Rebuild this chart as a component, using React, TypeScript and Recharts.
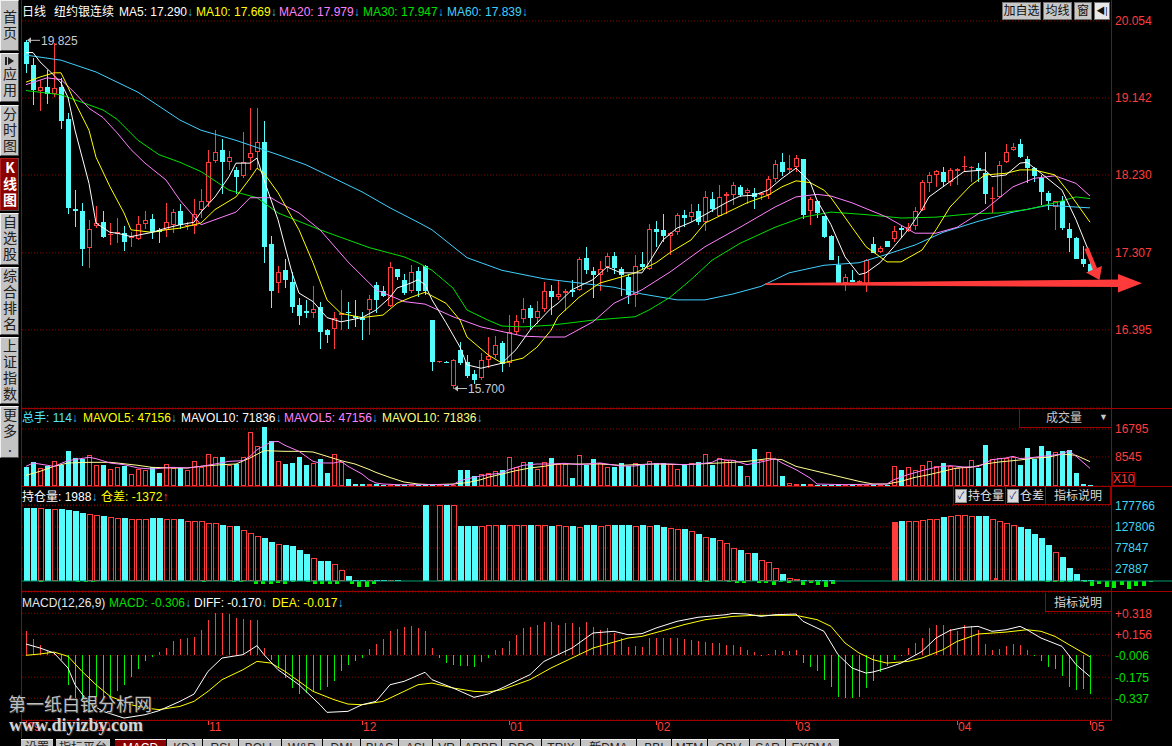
import React from "react";
import {
  ComposedChart,
  Bar,
  Line,
  XAxis,
  YAxis,
  CartesianGrid,
  ReferenceDot,
  ReferenceLine,
} from "recharts";

const RED = "#ff3c3c";
const CYAN = "#54fcfc";
const GREEN = "#00f000";
const GRID = "#8c0000";
const FRAME = "#a00000";
const ARROW = "#30b8e8";
const FONT = "Arial, 'Liberation Sans', 'Noto Sans CJK SC', sans-serif";

// daily candles
const opens = [
  19.81, 19.53, 19.22, 19.27, 19.19, 19.27, 18.89, 17.83, 17.8, 17.37,
  17.62, 17.67, 17.52, 17.53, 17.54, 17.48, 17.47, 17.65, 17.71, 17.58,
  17.58, 17.64, 17.8, 17.62, 17.62, 17.82, 17.91, 18.4, 18.52, 18.38,
  18.29, 18.22, 18.43, 18.5, 18.62, 17.41, 16.95, 17.1, 16.96, 16.69,
  16.62, 16.6, 16.66, 16.39, 16.4, 16.57, 16.61, 16.56, 16.54, 16.63,
  16.93, 16.86, 16.68, 17.11, 16.99, 16.85, 17.09, 17.15, 16.51, 16.01,
  16.01, 15.73, 16.16, 16.01, 15.87, 15.83, 16.04, 16.1, 16.24, 16.0,
  16.37, 16.52, 16.65, 16.54, 16.64, 16.86, 16.79, 16.83, 16.87, 16.87,
  17.25, 17.09, 17.05, 17.14, 17.27, 17.12, 17.02, 16.81, 17.18, 17.12,
  17.59, 17.58, 17.51, 17.55, 17.76, 17.73, 17.8, 17.67, 17.95, 17.74,
  17.98, 17.99, 18.09, 18.02, 18.02, 17.99, 17.99, 18.18, 18.38, 18.29,
  18.32, 18.42, 17.8, 17.92, 17.74, 17.51, 17.16, 16.95, 16.99, 16.95,
  16.93, 17.41, 17.32, 17.45, 17.47, 17.6, 17.57, 17.62, 17.81, 18.14,
  18.23, 18.27, 18.15, 18.28, 18.33, 18.32, 18.31, 18.25, 17.95, 17.97,
  18.38, 18.53, 18.6, 18.42, 18.31, 18.19, 18.02, 17.85, 17.92, 17.59,
  17.48, 17.24, 17.18,
];
const highs = [
  19.825, 19.61, 19.36, 19.47, 19.79, 19.38, 18.96, 18.05, 17.9, 17.7,
  17.86, 17.8, 17.66, 17.72, 17.62, 17.56, 17.74, 17.8, 17.77, 17.6,
  17.9, 17.83, 17.89, 17.67, 17.95, 18.06, 18.53, 18.76, 18.66, 18.51,
  18.33, 18.74, 19.02, 19.02, 18.87, 17.51, 17.15, 17.24, 17.08, 16.77,
  16.75, 16.91, 16.73, 16.41, 16.61, 16.87, 16.73, 16.75, 16.61, 16.81,
  16.96, 16.91, 17.2, 17.12, 17.06, 17.16, 17.14, 17.16, 16.51, 16.02,
  16.02, 16.05, 16.25, 16.1, 15.92, 16.12, 16.31, 16.32, 16.26, 16.57,
  16.57, 16.77, 16.69, 16.74, 16.96, 16.93, 16.99, 16.88, 16.99, 17.26,
  17.38, 17.14, 17.21, 17.3, 17.32, 17.14, 17.06, 17.28, 17.32, 17.65,
  17.69, 17.77, 17.56, 17.78, 17.81, 17.88, 17.89, 18.04, 18.03, 18.11,
  18.03, 18.15, 18.11, 18.07, 18.08, 18.03, 18.22, 18.41, 18.49, 18.47,
  18.47, 18.42, 17.97, 17.93, 17.74, 17.52, 17.27, 17.06, 17.1, 16.99,
  17.23, 17.49, 17.39, 17.45, 17.63, 17.63, 17.66, 17.85, 18.17, 18.27,
  18.29, 18.33, 18.31, 18.31, 18.45, 18.34, 18.37, 18.5, 18.09, 18.39,
  18.6, 18.61, 18.66, 18.45, 18.33, 18.23, 18.04, 17.92, 17.98, 17.66,
  17.49, 17.39, 17.2,
];
const lows = [
  19.44, 19.06, 18.99, 19.07, 19.15, 18.77, 17.77, 17.61, 17.15, 17.13,
  17.6, 17.48, 17.4, 17.42, 17.33, 17.38, 17.46, 17.59, 17.47, 17.42,
  17.49, 17.54, 17.59, 17.58, 17.53, 17.72, 17.85, 18.37, 18.01, 18.29,
  18.01, 18.19, 18.29, 18.31, 17.19, 16.65, 16.83, 16.89, 16.59, 16.45,
  16.53, 16.54, 16.17, 16.24, 16.17, 16.39, 16.41, 16.43, 16.27, 16.33,
  16.59, 16.79, 16.67, 16.99, 16.81, 16.83, 16.79, 16.81, 15.91, 16.0,
  16.0, 15.7, 15.98, 15.82, 15.75, 15.8, 15.94, 16.06, 15.9, 15.96,
  16.33, 16.48, 16.39, 16.47, 16.61, 16.57, 16.75, 16.62, 16.79, 16.85,
  17.06, 16.77, 16.86, 17.08, 17.06, 16.8, 16.7, 16.66, 17.1, 17.1,
  17.38, 17.44, 17.28, 17.52, 17.61, 17.67, 17.64, 17.57, 17.79, 17.74,
  17.77, 17.87, 17.97, 17.89, 17.83, 17.93, 17.94, 18.15, 18.22, 18.25,
  18.27, 17.71, 17.64, 17.72, 17.48, 17.22, 16.95, 16.86, 16.96, 16.94,
  16.84, 17.3, 17.3, 17.38, 17.44, 17.48, 17.55, 17.58, 17.8, 18.03,
  18.09, 18.09, 18.1, 18.11, 18.27, 18.15, 18.15, 17.89, 17.78, 17.96,
  18.37, 18.51, 18.43, 18.13, 18.15, 17.87, 17.81, 17.58, 17.58, 17.32,
  17.23, 17.14, 17.06,
];
const closes = [
  19.55, 19.24, 19.27, 19.19, 19.26, 18.87, 17.84, 17.8, 17.35, 17.59,
  17.66, 17.5, 17.53, 17.55, 17.44, 17.51, 17.65, 17.7, 17.56, 17.56,
  17.67, 17.79, 17.64, 17.64, 17.77, 17.92, 18.38, 18.5, 18.38, 18.44,
  18.2, 18.38, 18.49, 18.62, 17.38, 16.85, 17.08, 16.99, 16.67, 16.56,
  16.59, 16.64, 16.37, 16.33, 16.53, 16.59, 16.6, 16.53, 16.51, 16.76,
  16.75, 16.8, 17.14, 17.02, 16.83, 17.08, 16.85, 16.85, 16.01, 16.02,
  16.0, 16.04, 16.0, 15.85, 15.8, 16.04, 16.08, 16.21, 15.99, 16.37,
  16.5, 16.64, 16.54, 16.62, 16.85, 16.78, 16.82, 16.86, 16.84, 17.24,
  17.1, 17.04, 17.12, 17.27, 17.13, 17.04, 16.81, 17.15, 17.14, 17.59,
  17.56, 17.51, 17.54, 17.76, 17.72, 17.79, 17.67, 17.97, 17.83, 17.97,
  18.0, 18.11, 17.99, 18.05, 17.97, 18.02, 18.18, 18.36, 18.27, 18.31,
  18.43, 17.76, 17.95, 17.78, 17.49, 17.22, 16.95, 17.02, 16.96, 16.97,
  17.22, 17.3, 17.37, 17.38, 17.57, 17.58, 17.61, 17.8, 18.15, 18.23,
  18.28, 18.15, 18.29, 18.3, 18.34, 18.33, 18.29, 18.01, 17.96, 18.35,
  18.5, 18.56, 18.44, 18.31, 18.22, 18.03, 17.92, 17.92, 17.6, 17.48,
  17.24, 17.17, 17.08,
];

// volume (x10 lots)
const volumes = [
  5696, 7169, 5303, 5794, 7463, 6088, 10409, 8249, 7856, 9231,
  6285, 6285, 5106, 5499, 5794, 3535, 5008, 4812, 5499, 3928,
  6481, 5303, 5303, 4812, 7463, 5499, 9427, 8445, 8642, 6088,
  6481, 8642, 15908, 11784, 17283, 13355, 7463, 6579, 6874, 8445,
  6088, 6776, 8052, 3732, 9427, 6972, 2160, 687, 687, 600,
  600, 400, 300, 300, 300, 300, 400, 400, 400, 300,
  400, 400, 4812, 4812, 3044, 3535, 3830, 4517, 4812, 8543,
  5597, 7070, 7169, 5106, 7070, 8347, 6481, 6481, 2455, 9133,
  6285, 8052, 6776, 5597, 5696, 6776, 5794, 6776, 6285, 7463,
  6776, 6776, 6481, 5106, 6481, 6776, 7070, 9427, 6285, 8249,
  7758, 7758, 5990, 3044, 10998, 7758, 10016, 8052, 3044, 884,
  589, 589, 589, 393, 393, 393, 393, 393, 393, 393,
  393, 393, 393, 393, 5892, 4812, 5597, 4714, 6187, 7463,
  5794, 6776, 5794, 5205, 5499, 7758, 5401, 12177, 8052, 8249,
  8249, 8642, 6285, 11195, 7856, 11882, 10213, 9918, 10409, 10704,
  3928, 687, 400,
];

// open interest (null = no bar)
const openInterest = [
  172800, 172800, 172000, 169600, 169600, 169600, 166500, 164200, 160200, 157100,
  154800, 153200, 150900, 147700, 147700, 146200, 145400, 145400, 147700, 147700,
  145400, 145400, 145400, 142300, 140700, 140700, 137600, 136000, 132100, 129800,
  129800, 119600, 112600, 106300, 100800, 91500, 87600, 85200, 82100, 73500,
  64900, 53900, 47700, 47700, 39900, 25800, 12500, 3100, 3100, 3100,
  2300, 2300, 2300, 2300, null, null, null, 179000, null, 179000,
  179000, 179000, 129800, 129800, 129800, 129000, 131300, 131300, 132100, 132100,
  132100, 132100, 132100, 132100, 132100, 129800, 132100, 129800, 129800, 126600,
  132100, 132100, 129800, 132100, 132100, 132100, 132100, 129800, 132100, 129800,
  132100, 127400, 124300, 121900, 122700, 117300, 111000, 103200, 101600, 96100,
  89100, 79000, 73500, 66400, 66400, 49200, 44600, 30500, 17200, 7000,
  4700, 2300, 2300, 2300, 2300, 2300, null, null, null, null,
  null, null, null, null, 139100, 141500, 141500, 141500, 143800, 146200,
  146200, 151700, 153200, 155600, 155600, 153200, 153200, 153200, 145400, 141500,
  136000, 132100, 127400, 121900, 111000, 101600, 86000, 68800, 57100, 31300,
  17200, 3100, 2300,
];
const oiSolidIdx = [124];

// open interest change, [index, value]
const oiChgPts: [number, number][] = [
  [2, -2400], [7, -2400], [8, -3100], [9, -2400], [18, 2000], [24, -2400], [28, -2400],
  [29, -2400], [31, -6300], [32, -6300], [33, -7900], [34, -3900], [35, -7100], [36, -3100],
  [38, -2400], [39, -7100], [40, -7100], [41, -7100], [42, -6300], [44, -7900], [45, -13400],
  [46, -14200], [47, -6300], [80, 1500], [91, -2400], [92, -2400], [95, -3100], [96, -3900],
  [97, -3900], [99, -4700], [100, -5500], [101, -9400], [102, -2400], [103, -3900], [105, -9400],
  [106, -3900], [107, -9400], [108, -14200], [109, -6300], [125, 3000], [131, 6000], [138, -3100],
  [139, -3100], [140, -3100], [141, -2400], [143, -2400], [144, -11000], [145, -6300],
  [146, -14200], [147, -15700], [148, -9400], [149, -19700], [150, -11800], [151, -11000],
  [152, -1372],
];

// MACD histogram
const macdBars = [
  0.184, 0.122, 0.071, 0.024, 0.004, -0.04, -0.233, -0.335, -0.356, -0.348,
  -0.348, -0.335, -0.32, -0.284, -0.233, -0.176, -0.109, -0.048, -0.019, 0.017,
  0.05, 0.107, 0.122, 0.127, 0.132, 0.191, 0.269, 0.32, 0.32, 0.312,
  0.281, 0.273, 0.269, 0.269, 0.05, -0.04, -0.104, -0.181, -0.258, -0.305,
  -0.297, -0.284, -0.271, -0.253, -0.202, -0.13, -0.084, -0.048, -0.027, 0.042,
  0.081, 0.122, 0.184, 0.199, 0.209, 0.217, 0.204, 0.179, 0.05, -0.027,
  -0.066, -0.084, -0.091, -0.091, -0.099, -0.058, -0.027, 0.032, 0.05, 0.101,
  0.153, 0.204, 0.209, 0.23, 0.251, 0.251, 0.23, 0.243, 0.243, 0.209,
  0.25, 0.209, 0.191, 0.204, 0.166, 0.127, 0.055, 0.063, 0.055, 0.127,
  0.127, 0.127, 0.127, 0.127, 0.12, 0.114, 0.101, 0.096, 0.089, 0.089,
  0.076, 0.071, 0.055, 0.037, 0.019, -0.004, 0.004, 0.037, 0.03, 0.03,
  0.037, -0.066, -0.099, -0.13, -0.194, -0.253, -0.33, -0.335, -0.335, -0.328,
  -0.258, -0.202, -0.135, -0.091, -0.04, -0.005, 0.05, 0.089, 0.127, 0.204,
  0.23, 0.225, 0.199, 0.179, 0.23, 0.217, 0.191, 0.081, 0.037, 0.045,
  0.068, 0.081, 0.076, 0.037, -0.014, -0.053, -0.099, -0.109, -0.168, -0.253,
  -0.271, -0.263, -0.306,
];

// moving averages read at points along each line, [index, value]
const ma5Pts: [number, number][] = [
  [0, 19.68], [1, 19.68], [2, 19.57], [4, 19.41], [5, 19.32], [6, 19.15], [7, 18.76], [9, 18.13],
  [10, 17.66], [12, 17.55], [13, 17.54], [15, 17.5], [18, 17.55], [20, 17.6], [22, 17.64],
  [24, 17.67], [25, 17.79], [27, 17.97], [29, 18.21], [30, 18.37], [32, 18.37], [33, 18.43],
  [34, 18.17], [36, 17.7], [38, 17.07], [39, 16.83], [41, 16.73], [43, 16.54], [45, 16.49],
  [48, 16.54], [50, 16.63], [52, 16.78], [53, 16.89], [55, 16.95], [56, 16.99], [57, 16.93],
  [58, 16.75], [60, 16.48], [62, 16.19], [63, 15.98], [65, 15.94], [68, 16.0], [70, 16.16],
  [72, 16.39], [75, 16.65], [76, 16.71], [78, 16.87], [81, 16.99], [83, 17.14], [85, 17.07],
  [88, 17.07], [89, 17.19], [91, 17.46], [93, 17.6], [95, 17.67], [97, 17.76], [100, 17.9],
  [102, 17.98], [104, 17.99], [106, 18.05], [108, 18.19], [110, 18.31], [112, 18.15],
  [113, 17.93], [115, 17.64], [117, 17.26], [119, 17.05], [120, 17.07], [122, 17.19],
  [124, 17.38], [126, 17.58], [128, 17.82], [129, 17.97], [132, 18.15], [134, 18.27],
  [137, 18.29], [138, 18.21], [140, 18.23], [142, 18.37], [143, 18.38], [145, 18.25],
  [148, 18.05], [150, 17.7], [152, 17.29],
];
const ma10Pts: [number, number][] = [
  [0, 19.33], [2, 19.39], [4, 19.44], [5, 19.44], [6, 19.27], [7, 19.09], [9, 18.76], [10, 18.44],
  [12, 18.09], [14, 17.78], [15, 17.58], [18, 17.55], [20, 17.58], [22, 17.6], [25, 17.66],
  [27, 17.82], [30, 17.97], [32, 18.19], [33, 18.31], [34, 18.25], [36, 18.02], [39, 17.58],
  [41, 17.19], [43, 16.75], [45, 16.59], [48, 16.54], [51, 16.57], [53, 16.71], [55, 16.78],
  [57, 16.84], [60, 16.71], [62, 16.51], [63, 16.31], [66, 16.1], [68, 16.0], [71, 16.06],
  [73, 16.19], [75, 16.39], [76, 16.55], [79, 16.78], [82, 16.95], [85, 17.02], [87, 17.07],
  [90, 17.19], [92, 17.31], [95, 17.46], [97, 17.66], [100, 17.78], [103, 17.9], [106, 17.99],
  [108, 18.09], [110, 18.16], [112, 18.14], [114, 18.05], [115, 17.96], [118, 17.61],
  [120, 17.38], [123, 17.2], [125, 17.2], [128, 17.34], [130, 17.58], [132, 17.85],
  [135, 18.11], [137, 18.23], [140, 18.25], [142, 18.29], [144, 18.29], [147, 18.23],
  [149, 18.02], [152, 17.67],
];
const ma20Pts: [number, number][] = [
  [0, 19.3], [3, 19.38], [5, 19.36], [7, 19.2], [9, 19.02], [11, 18.91], [13, 18.73], [15, 18.53],
  [17, 18.37], [20, 18.17], [22, 17.93], [25, 17.64], [27, 17.7], [30, 17.79], [32, 17.96],
  [35, 17.96], [36, 17.91], [39, 17.78], [42, 17.58], [46, 17.2], [50, 16.87], [54, 16.73],
  [57, 16.7], [61, 16.55], [65, 16.43], [71, 16.32], [74, 16.31], [77, 16.31], [81, 16.49],
  [84, 16.71], [88, 16.87], [92, 17.08], [97, 17.38], [102, 17.61], [107, 17.85], [110, 17.97],
  [113, 18.0], [115, 17.98], [118, 17.9], [123, 17.73], [127, 17.54], [130, 17.54],
  [133, 17.61], [137, 17.82], [141, 18.09], [144, 18.19], [147, 18.22], [150, 18.13],
  [152, 17.98],
];
const ma30Pts: [number, number][] = [
  [0, 19.23], [5, 19.18], [7, 19.12], [11, 19.0], [13, 18.89], [16, 18.64], [19, 18.47],
  [22, 18.38], [25, 18.27], [29, 18.05], [33, 17.96], [36, 17.78], [42, 17.58], [49, 17.37],
  [54, 17.26], [56, 17.19], [58, 17.1], [61, 16.89], [63, 16.63], [66, 16.51], [68, 16.44],
  [71, 16.43], [75, 16.45], [81, 16.51], [87, 16.55], [89, 16.63], [92, 16.78], [95, 16.99],
  [98, 17.22], [102, 17.42], [107, 17.61], [111, 17.73], [115, 17.79], [120, 17.76],
  [125, 17.72], [130, 17.73], [135, 17.77], [139, 17.78], [143, 17.82], [147, 17.9],
  [150, 17.97], [152, 17.95],
];
const ma60Pts: [number, number][] = [
  [0, 19.65], [5, 19.59], [10, 19.45], [16, 19.21], [22, 18.88], [25, 18.76], [30, 18.64],
  [36, 18.47], [40, 18.35], [44, 18.19], [48, 18.03], [52, 17.84], [56, 17.67], [58, 17.58],
  [63, 17.25], [68, 17.1], [74, 17.0], [79, 16.95], [84, 16.9], [88, 16.82], [93, 16.75],
  [97, 16.75], [101, 16.82], [105, 16.91], [109, 17.07], [114, 17.16], [119, 17.19],
  [123, 17.29], [127, 17.4], [131, 17.55], [136, 17.68], [141, 17.79], [146, 17.87],
  [152, 17.84],
];
const mavol5Pts: [number, number][] = [
  [0, 5794], [1, 6776], [4, 5794], [6, 7463], [9, 8445], [10, 8052], [12, 6776], [14, 6285],
  [16, 5303], [18, 5008], [21, 5499], [23, 5303], [25, 5794], [27, 6481], [29, 7267], [31, 7463],
  [32, 8740], [33, 10704], [35, 12962], [36, 13159], [37, 11980], [39, 10213], [41, 7267],
  [42, 6776], [44, 6776], [45, 7267], [46, 5794], [48, 3535], [49, 1866], [50, 884], [51, 589],
  [53, 393], [61, 393], [62, 1571], [64, 2553], [66, 3339], [68, 3830], [69, 4812], [71, 6088],
  [73, 6481], [75, 6481], [77, 6678], [79, 6285], [82, 6776], [85, 5892], [87, 5892], [88, 6285],
  [90, 6579], [92, 6481], [94, 6285], [96, 6481], [98, 6972], [99, 7954], [100, 7659],
  [101, 7561], [103, 6285], [105, 7070], [107, 8052], [108, 6776], [110, 4812], [112, 2357],
  [113, 589], [117, 393], [123, 589], [124, 1866], [126, 3339], [128, 4517], [130, 5499],
  [132, 5990], [134, 5597], [136, 5696], [138, 7758], [140, 8249], [141, 8740], [142, 8052],
  [144, 8445], [146, 8936], [148, 9427], [149, 10409], [150, 8800], [151, 7000], [152, 5200],
];
const mavol10Pts: [number, number][] = [
  [0, 3142], [2, 4321], [4, 5794], [6, 6776], [9, 6972], [12, 6972], [13, 6776], [16, 6088],
  [18, 5499], [21, 5303], [23, 5303], [25, 5794], [28, 6285], [30, 6481], [32, 8249], [34, 10409],
  [37, 10213], [39, 10213], [41, 10016], [43, 8740], [45, 7463], [47, 6481], [49, 4900],
  [50, 4000], [52, 2500], [54, 1178], [56, 589], [58, 393], [61, 589], [63, 982], [65, 1866],
  [66, 2553], [68, 3535], [70, 4517], [72, 5303], [74, 5794], [76, 6481], [79, 6481], [82, 6481],
  [85, 6088], [87, 6285], [90, 6481], [94, 6285], [97, 6579], [99, 6776], [101, 6972],
  [103, 7267], [106, 8052], [108, 7758], [110, 5794], [113, 4321], [116, 2848], [119, 1375],
  [121, 589], [123, 589], [125, 1375], [127, 2553], [129, 3339], [131, 4321], [133, 5303],
  [135, 5499], [137, 6481], [139, 7070], [141, 7463], [142, 7659], [144, 8249], [146, 8445],
  [148, 9427], [150, 9034], [152, 7184],
];
const diffPts: [number, number][] = [
  [0, 0.081], [2, 0.05], [4, 0.012], [6, -0.104], [7, -0.233], [9, -0.374], [11, -0.438],
  [14, -0.49], [17, -0.464], [19, -0.433], [22, -0.361], [24, -0.305], [26, -0.13], [28, -0.027],
  [31, -0.001], [33, 0.068], [34, -0.001], [36, -0.117], [39, -0.233], [42, -0.387], [43, -0.446],
  [46, -0.438], [48, -0.387], [50, -0.361], [52, -0.233], [54, -0.207], [57, -0.137],
  [58, -0.194], [61, -0.258], [64, -0.33], [66, -0.305], [68, -0.258], [72, -0.155],
  [74, -0.053], [78, 0.05], [81, 0.166], [84, 0.179], [86, 0.153], [88, 0.161], [90, 0.204],
  [93, 0.256], [96, 0.287], [100, 0.307], [101, 0.317], [103, 0.312], [105, 0.294],
  [107, 0.307], [110, 0.312], [111, 0.256], [114, 0.179], [116, -0.001], [118, -0.104],
  [120, -0.143], [121, -0.135], [123, -0.104], [125, -0.066], [128, 0.024], [130, 0.127],
  [132, 0.186], [134, 0.209], [136, 0.217], [138, 0.179], [140, 0.191], [142, 0.217],
  [143, 0.191], [145, 0.127], [148, 0.063], [150, -0.078], [152, -0.17],
];
const deaPts: [number, number][] = [
  [0, -0.006], [2, 0.004], [4, 0.019], [6, -0.014], [8, -0.13], [10, -0.233], [12, -0.322],
  [15, -0.387], [17, -0.412], [19, -0.425], [22, -0.4], [24, -0.361], [26, -0.284], [28, -0.194],
  [31, -0.117], [33, -0.053], [35, -0.066], [37, -0.13], [39, -0.207], [41, -0.284], [44, -0.348],
  [46, -0.382], [48, -0.387], [51, -0.361], [53, -0.31], [56, -0.233], [58, -0.22], [61, -0.258],
  [64, -0.284], [66, -0.289], [68, -0.271], [72, -0.194], [75, -0.104], [78, -0.027], [81, 0.05],
  [84, 0.096], [86, 0.127], [88, 0.14], [91, 0.184], [94, 0.23], [97, 0.268], [101, 0.294],
  [104, 0.302], [107, 0.302], [110, 0.302], [113, 0.269], [115, 0.217], [117, 0.089],
  [119, 0.012], [121, -0.04], [123, -0.066], [126, -0.053], [128, -0.027], [131, 0.037],
  [133, 0.101], [136, 0.158], [140, 0.173], [143, 0.191], [145, 0.179], [147, 0.14],
  [149, 0.076], [152, -0.017],
];

const priceTicks = [20.054, 19.142, 18.23, 17.307, 16.395];
const volTicks = [16795, 8545];
const oiTicks = [177766, 127806, 77847, 27887];
const macdTicks = [0.318, 0.156, -0.006, -0.175, -0.337];
const monthIdx = [0, 10, 26, 48, 69, 90, 110, 133, 152];
const monthLabels = ["09", "10", "11", "12", "01", "02", "03", "04", "05"];

const N = closes.length;
const spread = (pts: [number, number][]) => {
  const a: (number | null)[] = new Array(N).fill(null);
  pts.forEach(([i, v]) => (a[i] = v));
  return a;
};
const ma5 = spread(ma5Pts);
const ma10 = spread(ma10Pts);
const ma20 = spread(ma20Pts);
const ma30 = spread(ma30Pts);
const ma60 = spread(ma60Pts);
const mv5 = spread(mavol5Pts);
const mv10 = spread(mavol10Pts);
const oiChg = spread(oiChgPts);
const diff = spread(diffPts);
const dea = spread(deaPts);

const rows = closes.map((c, i) => ({
  i,
  o: opens[i],
  h: highs[i],
  l: lows[i],
  c,
  range: [lows[i], highs[i]],
  vol: volumes[i],
  oi: openInterest[i],
  chg: oiChg[i],
  macd: macdBars[i],
  ma5: ma5[i],
  ma10: ma10[i],
  ma20: ma20[i],
  ma30: ma30[i],
  ma60: ma60[i],
  mv5: mv5[i],
  mv10: mv10[i],
  diff: diff[i],
  dea: dea[i],
}));

const PAD = { left: 0.5, right: 17.5 };
const CW = 1150;
const M = { top: 10, right: 0, bottom: 0, left: 0 };

const span = (y: number, height: number) => {
  const top = Math.round(Math.min(y, y + height));
  const bot = Math.round(Math.max(y, y + height));
  return [top, bot];
};

function Candle(props: any) {
  const { x, y, width, height, payload } = props;
  if (!payload || x == null || y == null) return null;
  const { o, h, l, c } = payload;
  const top = Math.min(y, y + height);
  const k = h > l ? Math.abs(height) / (h - l) : 0;
  const py = (v: number) => Math.round(top + (h - v) * k);
  const cx = Math.round(x + width / 2);
  const yH = py(h);
  const yL = py(l);
  const bT = py(Math.max(o, c));
  const bh = Math.max(1, py(Math.min(o, c)) - bT);
  if (c >= o) {
    return (
      <g shapeRendering="crispEdges">
        <rect x={cx} y={yH} width={1} height={Math.max(0, bT - yH)} fill={RED} />
        <rect x={cx} y={bT + bh} width={1} height={Math.max(0, yL - bT - bh)} fill={RED} />
        {bh > 2 ? (
          <rect x={cx - 1.5} y={bT + 0.5} width={4} height={bh - 1} fill="none" stroke={RED} />
        ) : (
          <rect x={cx - 2} y={bT} width={5} height={bh} fill={RED} />
        )}
      </g>
    );
  }
  return (
    <g shapeRendering="crispEdges">
      <rect x={cx} y={yH} width={1} height={Math.max(1, yL - yH)} fill={CYAN} />
      <rect x={cx - 2} y={bT} width={5} height={bh} fill={CYAN} />
    </g>
  );
}

function VolBar(props: any) {
  const { x, y, width, height, payload } = props;
  if (!payload || y == null) return null;
  const [top, bot] = span(y, height);
  const hh = Math.max(1, bot - top);
  const cx = Math.round(x + width / 2);
  const up = payload.c >= payload.o;
  if (up && hh > 2)
    return <rect x={cx - 1.5} y={top + 0.5} width={4} height={hh - 1} fill="none" stroke={RED} shapeRendering="crispEdges" />;
  return <rect x={cx - 2} y={top} width={5} height={hh} fill={up ? RED : CYAN} shapeRendering="crispEdges" />;
}

function OiBar(props: any) {
  const { x, y, width, height, payload } = props;
  if (!payload || y == null || payload.oi == null) return null;
  const [top, bot] = span(y, height);
  const hh = Math.max(1, bot - top);
  const cx = Math.round(x + width / 2);
  const up = payload.c >= payload.o;
  if (oiSolidIdx.includes(payload.i))
    return <rect x={cx - 3} y={top} width={6} height={hh} fill={RED} shapeRendering="crispEdges" />;
  if (up && hh > 2)
    return <rect x={cx - 2.5} y={top + 0.5} width={5} height={hh - 1} fill="none" stroke={RED} shapeRendering="crispEdges" />;
  return <rect x={cx - 3} y={top} width={6} height={hh} fill={up ? RED : CYAN} shapeRendering="crispEdges" />;
}

function ChgBar(props: any) {
  const { x, y, width, height, payload } = props;
  if (!payload || y == null || payload.chg == null) return null;
  const [top, bot] = span(y, height);
  const cx = Math.round(x + width / 2);
  return (
    <rect x={cx - 2} y={top} width={4} height={Math.max(1, bot - top)} fill={payload.chg >= 0 ? RED : GREEN} shapeRendering="crispEdges" />
  );
}

function MacdBar(props: any) {
  const { x, y, width, height, payload } = props;
  if (!payload || y == null) return null;
  const [top, bot] = span(y, height);
  const cx = Math.round(x + width / 2);
  return (
    <rect x={cx} y={top} width={1} height={Math.max(1, bot - top)} fill={payload.macd >= 0 ? RED : GREEN} shapeRendering="crispEdges" />
  );
}

function ExtremeMark({ cx, cy, text }: any) {
  return (
    <g>
      <line x1={cx + 2} y1={cy} x2={cx + 14} y2={cy} stroke="#c0c0c0" />
      <path d={`M${cx + 1},${cy} l4,-3 l0,6 z`} fill="#c0c0c0" />
      <text x={cx + 15} y={cy} dy="0.36em" fill="#c4cad6" fontSize={12} fontFamily={FONT}>
        {text}
      </text>
    </g>
  );
}

function MacdTick(p: any) {
  const v = p.payload.value;
  return (
    <text x={p.x} y={p.y} dy="0.36em" textAnchor="start" fill={v > 0 ? RED : "#00e000"} fontSize={12} fontFamily={FONT}>
      {(v > 0 ? "+" : "") + v.toFixed(3)}
    </text>
  );
}

function MonthTick(p: any) {
  const k = monthIdx.indexOf(p.payload.value);
  if (k < 0) return <g />;
  return (
    <g>
      <rect x={p.x} y={p.y} width={1} height={5} fill={RED} />
      <text x={p.x + 1} y={p.y + 7} dy="0.36em" fill={RED} fontSize={12} fontFamily={FONT}>
        {monthLabels[k]}
      </text>
    </g>
  );
}

const lineProps = { dot: false, activeDot: false, connectNulls: true, isAnimationActive: false, strokeWidth: 1, type: "linear" as const };

// one label followed by its small trend arrow, kept in one text run so they never collide
function Label({ x, y, color, text, arrow, arrowColor = ARROW }: any) {
  return (
    <div style={{ position: "absolute", left: x, top: y, color, fontSize: 12, lineHeight: "14px", whiteSpace: "nowrap" }}>
      {text}
      {arrow ? <span style={{ color: arrowColor }}>{arrow}</span> : null}
    </div>
  );
}

// small "play" glyph on the 应用 button, drawn rather than typed
function PlayIcon() {
  return (
    <svg width={9} height={8} style={{ display: "block", marginBottom: 2 }}>
      <rect x={0} y={0} width={2} height={8} fill="#202020" />
      <polygon points="3,0 9,4 3,8" fill="#202020" />
    </svg>
  );
}

const sideButtons = [
  { top: 0, height: 51, text: "首页" },
  { top: 53, height: 49, text: "应用", icon: true },
  { top: 105, height: 51, text: "分时图" },
  { top: 158, height: 53, text: "K线图", active: true },
  { top: 213, height: 52, text: "自选股" },
  { top: 267, height: 68, text: "综合排名" },
  { top: 337, height: 67, text: "上证指数" },
  { top: 406, height: 52, text: "更多." },
];

const tabs: [string, number, number][] = [
  ["设置", 21, 54], ["指标平台", 56, 111], ["MACD", 115, 167], ["KDJ", 167, 203], ["RSI", 203, 239],
  ["BOLL", 239, 282], ["W&R", 282, 323], ["DMI", 323, 361], ["BIAS", 361, 399], ["ASI", 399, 433],
  ["VR", 433, 461], ["ARBR", 461, 502], ["DPO", 502, 542], ["TRIX", 542, 581], ["新DMA", 581, 637],
  ["BBI", 637, 672], ["MTM", 672, 708], ["OBV", 708, 750], ["SAR", 750, 786], ["EXPMA", 786, 840],
];

function HLine({ x1, x2, y }: any) {
  return <div style={{ position: "absolute", left: x1, top: y, width: x2 - x1, height: 1, background: FRAME }} />;
}
function VLine({ x, y1, y2 }: any) {
  return <div style={{ position: "absolute", left: x, top: y1, width: 1, height: y2 - y1, background: FRAME }} />;
}

function Check({ x }: any) {
  return (
    <div style={{ position: "absolute", left: x, top: 489, width: 10, height: 12, background: "#dcdcdc", border: "1px solid #8a8a8a", color: "#203080", fontSize: 10, lineHeight: "12px", textAlign: "center" }}>
      ✓
    </div>
  );
}

export default function App() {
  return (
    <div style={{ position: "absolute", left: 0, top: 0, width: 1172, height: 746, background: "#000", overflow: "hidden", fontFamily: FONT }}>
      {/* price panel */}
      <div style={{ position: "absolute", left: 22, top: 11 }}>
        <ComposedChart width={CW} height={397} data={rows} margin={M}>
          <CartesianGrid vertical={false} stroke={GRID} strokeDasharray="1 2" />
          <XAxis dataKey="i" type="category" hide padding={PAD} />
          <YAxis
            orientation="right"
            width={61}
            type="number"
            domain={[15.469, 20.054]}
            allowDataOverflow
            ticks={priceTicks}
            interval={0}
            axisLine={false}
            tickLine={false}
            tickSize={0}
            tickMargin={4}
            tick={{ fill: RED, fontSize: 12, fontFamily: FONT }}
            tickFormatter={(v: number) => v.toFixed(3)}
          />
          <Bar dataKey="range" barSize={5} shape={Candle} isAnimationActive={false} />
          <Line dataKey="ma60" stroke="#40d0ff" {...lineProps} />
          <Line dataKey="ma30" stroke="#00e000" {...lineProps} />
          <Line dataKey="ma20" stroke="#ff80ff" {...lineProps} />
          <Line dataKey="ma10" stroke="#ffff00" {...lineProps} />
          <Line dataKey="ma5" stroke="#ffffff" {...lineProps} />
          <ReferenceDot x={0} y={19.825} r={0} ifOverflow="visible" shape={(p: any) => <ExtremeMark cx={p.cx} cy={p.cy} text="19.825" />} />
          <ReferenceDot x={61} y={15.7} r={0} ifOverflow="visible" shape={(p: any) => <ExtremeMark cx={p.cx} cy={p.cy} text="15.700" />} />
        </ComposedChart>
      </div>

      {/* volume panel */}
      <div style={{ position: "absolute", left: 22, top: 399 }}>
        <ComposedChart width={CW} height={87} data={rows} margin={M}>
          <CartesianGrid vertical={false} stroke={GRID} strokeDasharray="1 2" />
          <XAxis dataKey="i" type="category" hide padding={PAD} />
          <YAxis
            orientation="right"
            width={61}
            type="number"
            domain={[0, 22684]}
            allowDataOverflow
            ticks={volTicks}
            interval={0}
            axisLine={false}
            tickLine={false}
            tickSize={0}
            tickMargin={4}
            tick={{ fill: RED, fontSize: 12, fontFamily: FONT }}
          />
          <Bar dataKey="vol" barSize={5} shape={VolBar} isAnimationActive={false} />
          <Line dataKey="mv10" stroke="#ffff90" {...lineProps} />
          <Line dataKey="mv5" stroke="#ff80ff" {...lineProps} />
        </ComposedChart>
      </div>

      {/* open interest panel */}
      <div style={{ position: "absolute", left: 22, top: 495 }}>
        <ComposedChart width={CW} height={96} data={rows} margin={M}>
          <CartesianGrid vertical={false} stroke={GRID} strokeDasharray="1 2" />
          <XAxis dataKey="i" type="category" hide padding={PAD} />
          <YAxis
            orientation="right"
            width={61}
            type="number"
            domain={[-23600, 179360]}
            allowDataOverflow
            ticks={oiTicks}
            interval={0}
            axisLine={false}
            tickLine={false}
            tickSize={0}
            tickMargin={4}
            tick={{ fill: "#40d4f0", fontSize: 12, fontFamily: FONT }}
          />
          <Bar dataKey="oi" barSize={6} shape={OiBar} isAnimationActive={false} />
        </ComposedChart>
      </div>
      <div style={{ position: "absolute", left: 22, top: 495 }}>
        <ComposedChart width={CW} height={96} data={rows} margin={M}>
          <XAxis dataKey="i" type="category" hide padding={PAD} />
          <YAxis orientation="right" width={61} type="number" domain={[-23600, 179360]} allowDataOverflow hide />
          <ReferenceLine y={0} stroke="#009a70" />
          <Bar dataKey="chg" barSize={4} shape={ChgBar} isAnimationActive={false} />
        </ComposedChart>
      </div>

      {/* MACD panel */}
      <div style={{ position: "absolute", left: 22, top: 582 }}>
        <ComposedChart width={CW} height={158} data={rows} margin={M}>
          <CartesianGrid vertical={false} stroke={GRID} strokeDasharray="1 2" />
          <XAxis
            dataKey="i"
            type="category"
            padding={PAD}
            height={20}
            interval={0}
            axisLine={false}
            tickLine={false}
            tickSize={0}
            tickMargin={0}
            tick={(p: any) => <MonthTick {...p} />}
          />
          <YAxis
            orientation="right"
            width={61}
            type="number"
            domain={[-0.5048, 0.482]}
            allowDataOverflow
            ticks={macdTicks}
            interval={0}
            axisLine={false}
            tickLine={false}
            tickSize={0}
            tickMargin={4}
            tick={(p: any) => <MacdTick {...p} />}
          />
          <Bar dataKey="macd" barSize={1} shape={MacdBar} isAnimationActive={false} />
          <Line dataKey="dea" stroke="#ffff00" {...lineProps} />
          <Line dataKey="diff" stroke="#ffffff" {...lineProps} />
        </ComposedChart>
      </div>

      {/* frame */}
      <VLine x={21} y1={0} y2={738} />
      <VLine x={1111} y1={0} y2={721} />
      <HLine x1={21} x2={1172} y={408} />
      <HLine x1={21} x2={1172} y={486} />
      <HLine x1={21} x2={1172} y={591} />
      <HLine x1={21} x2={1112} y={720} />

      {/* left sidebar: one vertical text run per button */}
      {sideButtons.map((b, k) => (
        <div
          key={k}
          style={{
            position: "absolute",
            left: 0,
            top: b.top,
            width: 19,
            height: b.height,
            boxSizing: "border-box",
            background: b.active ? "#8b0000" : "#c4c4c4",
            borderTop: `1px solid ${b.active ? "#b02020" : "#f0f0f0"}`,
            borderLeft: `1px solid ${b.active ? "#b02020" : "#f0f0f0"}`,
            borderBottom: "1px solid #505050",
            borderRight: "1px solid #505050",
            color: b.active ? "#fff" : "#202020",
            display: "flex",
            flexDirection: "column",
            alignItems: "center",
            justifyContent: "center",
          }}
        >
          {b.icon ? <PlayIcon /> : null}
          <div
            style={{
              writingMode: "vertical-rl",
              textOrientation: "upright",
              whiteSpace: "nowrap",
              fontSize: 14,
              lineHeight: "17px",
              letterSpacing: 2,
              fontFamily: "'Noto Sans CJK SC', sans-serif",
              fontWeight: b.active ? "bold" : "normal",
            }}
          >
            {b.text}
          </div>
        </div>
      ))}

      {/* title line */}
      <Label x={22} y={5} color="#fff" text="日线" />
      <Label x={54} y={5} color="#fff" text="纽约银连续" />
      <Label x={119} y={5} color="#fff" text="MA5: 17.290" arrow="↓" />
      <Label x={196} y={5} color="#ffff00" text="MA10: 17.669" arrow="↓" />
      <Label x={279} y={5} color="#ff80ff" text="MA20: 17.979" arrow="↓" />
      <Label x={363} y={5} color="#00e000" text="MA30: 17.947" arrow="↓" />
      <Label x={447} y={5} color="#40d0ff" text="MA60: 17.839" arrow="↓" />

      {/* top right buttons */}
      {[
        ["加自选", 1002, 39],
        ["均线", 1043, 29],
        ["窗", 1074, 18],
      ].map(([t, l, w]: any) => (
        <div key={t} style={{ position: "absolute", left: l, top: 2, width: w, height: 18, boxSizing: "border-box", background: "#c8c8c8", border: "1px solid #707070", color: "#101010", fontSize: 12, lineHeight: "16px", textAlign: "center" }}>
          {t}
        </div>
      ))}
      <div style={{ position: "absolute", left: 1094, top: 2, width: 16, height: 18, boxSizing: "border-box", background: "#e8e8e8", border: "1px solid #707070", color: "#101010", fontSize: 9, lineHeight: "16px", textAlign: "center" }}>
        ◀|
      </div>

      {/* volume header */}
      <Label x={22} y={411} color="#50e8ff" text="总手: 114" arrow="↓" />
      <Label x={83} y={411} color="#ffff00" text="MAVOL5: 47156" arrow="↓" />
      <Label x={181} y={411} color="#ffffff" text="MAVOL10: 71836" arrow="↓" />
      <Label x={284} y={411} color="#ff80ff" text="MAVOL5: 47156" arrow="↓" />
      <Label x={382} y={411} color="#ffff80" text="MAVOL10: 71836" arrow="↓" />
      <div style={{ position: "absolute", left: 1019, top: 409, width: 92, height: 19, boxSizing: "border-box", borderLeft: `1px solid ${FRAME}`, borderBottom: `1px solid ${FRAME}` }} />
      <Label x={1046} y={411} color="#c8c8c8" text="成交量" />
      <div style={{ position: "absolute", left: 1099, top: 412, color: "#c8c8c8", fontSize: 9, lineHeight: "11px" }}>▼</div>
      <div style={{ position: "absolute", left: 1112, top: 472, width: 23, height: 14, boxSizing: "border-box", border: `1px solid ${FRAME}`, color: RED, fontSize: 12, lineHeight: "12px", textAlign: "center" }}>
        X10
      </div>

      {/* open interest header */}
      <Label x={22} y={490} color="#ffffff" text="持仓量: 1988" arrow="↓" />
      <Label x={101} y={490} color="#ffff00" text="仓差: -1372" arrow="↑" arrowColor={RED} />
      <div style={{ position: "absolute", left: 953, top: 487, width: 158, height: 18, boxSizing: "border-box", border: `1px solid ${FRAME}`, borderTop: "none" }} />
      <VLine x={1005} y1={487} y2={505} />
      <VLine x={1045} y1={487} y2={505} />
      <Check x={955} />
      <Label x={968} y={489} color="#e0e0e0" text="持仓量" />
      <Check x={1007} />
      <Label x={1020} y={489} color="#e0e0e0" text="仓差" />
      <Label x={1054} y={489} color="#d8d8d8" text="指标说明" />

      {/* MACD header */}
      <Label x={22} y={596} color="#e8e8e8" text="MACD(12,26,9)" />
      <Label x={109} y={596} color="#00e000" text="MACD: -0.306" arrow="↓" />
      <Label x={194} y={596} color="#ffffff" text="DIFF: -0.170" arrow="↓" />
      <Label x={272} y={596} color="#ffff00" text="DEA: -0.017" arrow="↓" />
      <div style={{ position: "absolute", left: 1045, top: 593, width: 66, height: 19, boxSizing: "border-box", borderLeft: `1px solid ${FRAME}`, borderBottom: `1px solid ${FRAME}` }} />
      <Label x={1054} y={596} color="#d8d8d8" text="指标说明" />

      {/* bottom tabs */}
      {tabs.map(([t, l, r]) => (
        <div
          key={t}
          style={{
            position: "absolute",
            left: l,
            top: 739,
            width: r - l - 1,
            height: 8,
            overflow: "hidden",
            background: t === "MACD" ? "#8b0000" : "#c4c4c4",
            color: t === "MACD" ? "#ffffff" : "#202020",
            borderTop: "1px solid #f0f0f0",
            fontSize: 12,
            lineHeight: "16px",
            textAlign: "center",
          }}
        >
          {t}
        </div>
      ))}

      {/* watermark */}
      <div style={{ position: "absolute", left: 8, top: 693, fontSize: 18, lineHeight: "20px", color: "#c0c0c0", fontFamily: "'Noto Sans CJK SC', sans-serif", textShadow: "1px 1px 0 #303030", whiteSpace: "nowrap" }}>
        第一纸白银分析网
      </div>
      <div style={{ position: "absolute", left: 9, top: 716, fontSize: 18, lineHeight: "18px", fontWeight: "bold", color: "#d4d4d4", fontFamily: "'Liberation Serif', 'DejaVu Serif', serif", textShadow: "1px 1px 0 #303030", whiteSpace: "nowrap" }}>
        www.diyizby.com
      </div>

      {/* hand-drawn red arrows */}
      <svg width={1172} height={746} style={{ position: "absolute", left: 0, top: 0, pointerEvents: "none" }}>
        <polygon points="765,283.3 1120,279.5 1120,287 765,285" fill="#ff3a3a" />
        <polygon points="1118,274 1142,283.3 1118,292.5" fill="#ff3a3a" />
        <polygon points="1084.5,249 1088.5,247.5 1097,268 1093,270" fill="#ff3a3a" />
        <polygon points="1086,272.5 1102,266 1099.5,280" fill="#ff3a3a" />
      </svg>
    </div>
  );
}
